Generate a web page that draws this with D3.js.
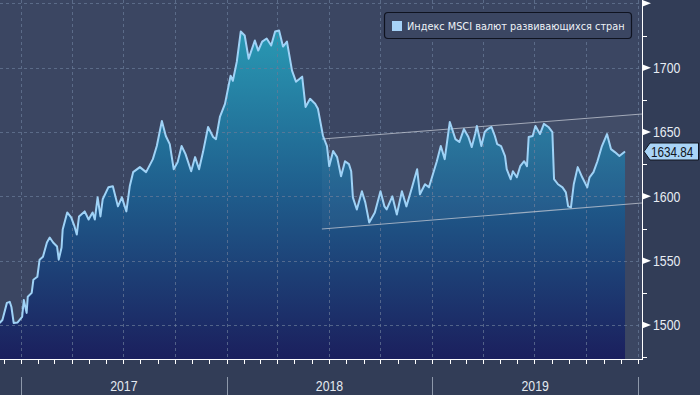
<!DOCTYPE html>
<html><head><meta charset="utf-8">
<script src="https://cdn.jsdelivr.net/npm/d3@7"></script>
<style>
html,body{margin:0;padding:0;background:#323d57;}
svg{display:block;}
.num{font-family:"Liberation Sans",Arial,sans-serif;}
</style></head>
<body>
<svg id="c" width="700" height="395"></svg>
<script>
const dates = ["2016-11-24","2016-11-29","2016-12-07","2016-12-12","2016-12-15","2016-12-19","2016-12-26",
"2017-01-03","2017-01-06","2017-01-11","2017-01-13","2017-01-20","2017-01-23","2017-01-30","2017-02-03","2017-02-09",
"2017-02-16","2017-02-21","2017-02-27","2017-03-06","2017-03-09","2017-03-14","2017-03-16","2017-03-24","2017-03-31",
"2017-04-06","2017-04-10","2017-04-14","2017-04-24","2017-05-01","2017-05-08","2017-05-12","2017-05-17","2017-05-22",
"2017-05-26","2017-06-05","2017-06-13","2017-06-22","2017-06-29","2017-07-07","2017-07-13","2017-07-19","2017-07-31",
"2017-08-11","2017-08-23","2017-08-30","2017-09-08","2017-09-15","2017-09-22","2017-09-29","2017-10-06","2017-10-13",
"2017-10-20","2017-10-30","2017-11-06","2017-11-13","2017-11-20","2017-11-29","2017-12-08","2017-12-13","2017-12-20",
"2017-12-29","2018-01-08","2018-01-12","2018-01-19","2018-01-26","2018-02-02","2018-02-09","2018-02-20","2018-02-26",
"2018-03-05","2018-03-13","2018-03-21","2018-03-28","2018-04-04","2018-04-11","2018-04-18","2018-04-27","2018-05-04",
"2018-05-15","2018-05-21","2018-05-29","2018-06-07","2018-06-12","2018-06-21","2018-06-28","2018-07-02","2018-07-09",
"2018-07-16","2018-07-23","2018-07-30","2018-08-06","2018-08-10","2018-08-13","2018-08-20","2018-08-29","2018-09-04",
"2018-09-11","2018-09-21","2018-10-01","2018-10-08","2018-10-12","2018-10-22","2018-10-30","2018-11-08","2018-11-16",
"2018-11-26","2018-12-05","2018-12-10","2018-12-19","2018-12-26","2019-01-02","2019-01-09","2019-01-16","2019-01-23",
"2019-02-01","2019-02-11","2019-02-18","2019-02-26","2019-03-06","2019-03-12","2019-03-18","2019-03-21","2019-03-29",
"2019-04-04","2019-04-09","2019-04-16","2019-04-22","2019-04-26","2019-05-03","2019-05-10","2019-05-13","2019-05-20",
"2019-05-24","2019-05-31","2019-06-06","2019-06-13","2019-06-18","2019-06-21","2019-06-28","2019-07-03","2019-07-11",
"2019-07-18","2019-07-26","2019-08-02","2019-08-05","2019-08-12","2019-08-20","2019-08-26","2019-08-30","2019-09-04",
"2019-09-09","2019-09-16","2019-09-24","2019-10-03","2019-10-07","2019-10-14","2019-10-21","2019-10-29","2019-11-07",
"2019-11-14","2019-11-21","2019-11-29","2019-12-09"];
const values = [1501.6,1503.9,1517.2,1518.0,1514.0,1501.6,1502.0,
1506.3,1519.5,1509.4,1521.9,1525.0,1535.2,1537.5,1550.8,1553.1,
1564.1,1568.0,1564.1,1561.0,1550.8,1560.2,1574.2,1587.5,1583.6,
1576.6,1570.3,1584.4,1588.3,1582.0,1587.5,1582.0,1599.2,1584.4,
1597.7,1607.0,1607.8,1592.2,1599.2,1588.3,1607.8,1618.8,1622.7,
1618.8,1628.9,1639.1,1658.6,1646.9,1640.6,1621.1,1626.6,1639.1,
1632.8,1619.5,1630.5,1621.1,1634.4,1653.9,1646.1,1644.5,1661.7,
1671.9,1693.8,1689.8,1704.7,1728.1,1725.0,1707.0,1721.1,1713.3,
1720.3,1722.7,1717.2,1728.1,1728.9,1716.4,1720.3,1697.7,1689.1,
1693.0,1669.5,1675.8,1671.9,1668.0,1646.9,1639.1,1623.4,1635.2,
1630.5,1615.6,1627.3,1625.0,1619.5,1599.2,1589.8,1603.9,1595.3,
1579.7,1587.5,1603.9,1592.2,1589.8,1600.0,1585.9,1603.9,1592.2,
1607.0,1621.1,1601.6,1609.4,1607.0,1617.2,1627.3,1639.1,1628.9,
1657.8,1644.5,1642.2,1652.3,1646.1,1638.3,1648.4,1654.7,1639.1,
1650.0,1652.3,1653.9,1646.9,1640.6,1639.1,1631.3,1621.1,1613.3,
1619.5,1614.8,1623.4,1627.3,1623.4,1646.1,1646.9,1654.7,1648.4,
1656.3,1653.9,1650.0,1613.3,1609.4,1607.0,1603.1,1592.2,1591.4,
1609.4,1622.7,1614.8,1607.0,1614.8,1618.8,1627.3,1639.1,1648.4,
1636.7,1634.4,1631.3,1634.84];
const seriesName = "Индекс MSCI валют развивающихся стран";
const lastLabel = "1634.84";
const yTicks = [1500,1550,1600,1650,1700];
const yFlagOnly = [1750];
const yMinor = [1475,1525,1575,1625,1675,1725];
const yearLabels = ["2017","2018","2019"];
const channelDates = ["2018-06-19","2020-01-08"];
const channelUpper = [1644.6,1664.0];
const channelLower = [1574.6,1594.8];

const W=700,H=395, plotR=642, plotB=360;
const parse=d3.timeParse("%Y-%m-%d");
const data=dates.map((d,i)=>({d:parse(d),v:values[i]}));
const x=d3.scaleTime().domain([new Date(2017,0,1),new Date(2020,0,1)]).range([21,638]);
const y=d3.scaleLinear().domain([1472.8,1752.6]).range([plotB,0]);

const svg=d3.select("#c");
svg.append("rect").attr("width",W).attr("height",H).attr("fill","#323d57");
svg.append("rect").attr("width",plotR).attr("height",plotB).attr("fill","#3b4662");

const defs=svg.append("defs");
const g=defs.append("linearGradient").attr("id","fillg").attr("gradientUnits","userSpaceOnUse")
 .attr("x1",0).attr("x2",0).attr("y1",20).attr("y2",plotB);
g.append("stop").attr("offset",0).attr("stop-color","#2a9db6");
g.append("stop").attr("offset",0.5).attr("stop-color","#1f5e8d");
g.append("stop").attr("offset",1).attr("stop-color","#1b1f5d");
defs.append("clipPath").attr("id","clip").append("rect").attr("width",plotR).attr("height",plotB);

const plot=svg.append("g").attr("clip-path","url(#clip)");
plot.append("path").datum(data).attr("fill","url(#fillg)")
 .attr("d",d3.area().x(d=>x(d.d)).y0(plotB).y1(d=>y(d.v)));

const gridC="#6a7a98";
const months=d3.timeMonth.range(new Date(2016,9,1),new Date(2020,1,1));
const quarters=months.filter(m=>m.getMonth()%3===0);
plot.selectAll(".vg").data(quarters).join("line")
 .attr("x1",d=>Math.round(x(d))+0.5).attr("x2",d=>Math.round(x(d))+0.5).attr("y1",0).attr("y2",plotB)
 .attr("stroke",gridC).attr("stroke-opacity",0.7).attr("stroke-dasharray","3,3");
plot.selectAll(".hg").data(yTicks.concat(yFlagOnly)).join("line")
 .attr("x1",0).attr("x2",plotR).attr("y1",d=>Math.round(y(d))+0.5).attr("y2",d=>Math.round(y(d))+0.5)
 .attr("stroke",gridC).attr("stroke-opacity",0.7).attr("stroke-dasharray","3,3");

const cx0=x(parse(channelDates[0])), cx1=x(parse(channelDates[1]));
plot.append("path")
 .attr("d",`M${cx0},${y(channelUpper[0])}L${cx1},${y(channelUpper[1])}L${cx1},${y(channelLower[1])}L${cx0},${y(channelLower[0])}Z`)
 .attr("fill","#ffffff").attr("fill-opacity",0.035);
[channelUpper,channelLower].forEach(c=>{
 plot.append("line").attr("x1",cx0).attr("x2",cx1).attr("y1",y(c[0])).attr("y2",y(c[1]))
  .attr("stroke","#c4cad4").attr("stroke-opacity",0.75).attr("stroke-width",1.1);
});

plot.append("path").datum(data).attr("fill","none").attr("stroke","#9fd2f6").attr("stroke-width",2)
 .attr("stroke-linejoin","round").attr("d",d3.line().x(d=>x(d.d)).y(d=>y(d.v)));

svg.append("line").attr("x1",0).attr("x2",plotR+0.5).attr("y1",plotB-0.5).attr("y2",plotB-0.5).attr("stroke","#ffffff");
svg.append("line").attr("x1",plotR+0.5).attr("x2",plotR+0.5).attr("y1",0).attr("y2",plotB).attr("stroke","#ffffff");
svg.selectAll(".mt").data(months.filter(m=>x(m)>=0&&x(m)<=plotR)).join("line")
 .attr("x1",d=>Math.round(x(d))+0.5).attr("x2",d=>Math.round(x(d))+0.5).attr("y1",plotB-1).attr("y2",plotB+4)
 .attr("stroke","#ffffff");
const yearStarts=[2017,2018,2019,2020].map(yr=>new Date(yr,0,1));
svg.selectAll(".yd").data(yearStarts).join("line")
 .attr("x1",d=>Math.round(x(d))+0.5).attr("x2",d=>Math.round(x(d))+0.5).attr("y1",377).attr("y2",H)
 .attr("stroke","#8d98aa");

const SQ=0.82;
function squeeze(sel,f){ sel.each(function(){ const l=this.getComputedTextLength(); if(l>0){ d3.select(this).attr("textLength",l*f).attr("lengthAdjust","spacingAndGlyphs"); } }); }

const yl=svg.selectAll(".yl").data(yearLabels).join("text").attr("class","num")
 .attr("y",391).attr("font-size",15).attr("fill","#e4e9f0").text(d=>d);
yl.each(function(d,i){ const l=this.getComputedTextLength()*SQ; const c=(x(yearStarts[i])+x(yearStarts[i+1]))/2;
 d3.select(this).attr("x",c-l/2).attr("textLength",l).attr("lengthAdjust","spacingAndGlyphs"); });

svg.selectAll(".ym").data(yMinor).join("line")
 .attr("x1",plotR).attr("x2",plotR+5).attr("y1",d=>Math.round(y(d))+0.5).attr("y2",d=>Math.round(y(d))+0.5)
 .attr("stroke","#ffffff");
svg.selectAll(".fl").data(yTicks.concat(yFlagOnly)).join("path")
 .attr("d",d=>{const yy=y(d);return `M${plotR},${yy-3.5}L${plotR+9},${yy}L${plotR},${yy+3.5}Z`;})
 .attr("fill","#ffffff");
const tl=svg.selectAll(".tl").data(yTicks).join("text").attr("class","num")
 .attr("x",plotR+11).attr("y",d=>y(d)).attr("dy","0.36em").attr("font-size",15)
 .attr("fill","#e8edf4").text(d=>d);
squeeze(tl,SQ);

const ly=y(values[values.length-1]);
svg.append("path").attr("d",`M${plotR+2},${ly}L${plotR+8},${ly-8.5}L${W-1.5},${ly-8.5}L${W-1.5},${ly+8.5}L${plotR+8},${ly+8.5}Z`)
 .attr("fill","#a9d4f7").attr("stroke","#10141f").attr("stroke-width",1);
svg.append("g").attr("transform",`translate(${plotR+9},${ly}) scale(0.78,1)`)
 .append("text").attr("class","num").attr("x",0).attr("y",0).attr("dy","0.36em")
 .attr("font-size",15).attr("fill","#111522").text(lastLabel);

const lg=svg.append("g");
lg.append("rect").attr("x",384.5).attr("y",12.5).attr("width",247).attr("height",26).attr("rx",3.5)
 .attr("fill","#3b4662").attr("stroke","#0f1320").attr("stroke-width",1.2);
lg.append("rect").attr("x",392).attr("y",21).attr("width",10).attr("height",10).attr("fill","#a6d2f8");
const lt=lg.append("text").attr("x",407).attr("y",26).attr("dy","0.36em")
 .attr("font-family","DejaVu Sans, sans-serif").attr("font-size",11).attr("fill","#eef2f7").text(seriesName);
const tw=lt.node().getComputedTextLength();
if(tw>0){ lt.attr("font-size",11*218/tw); }
</script>
</body></html>
